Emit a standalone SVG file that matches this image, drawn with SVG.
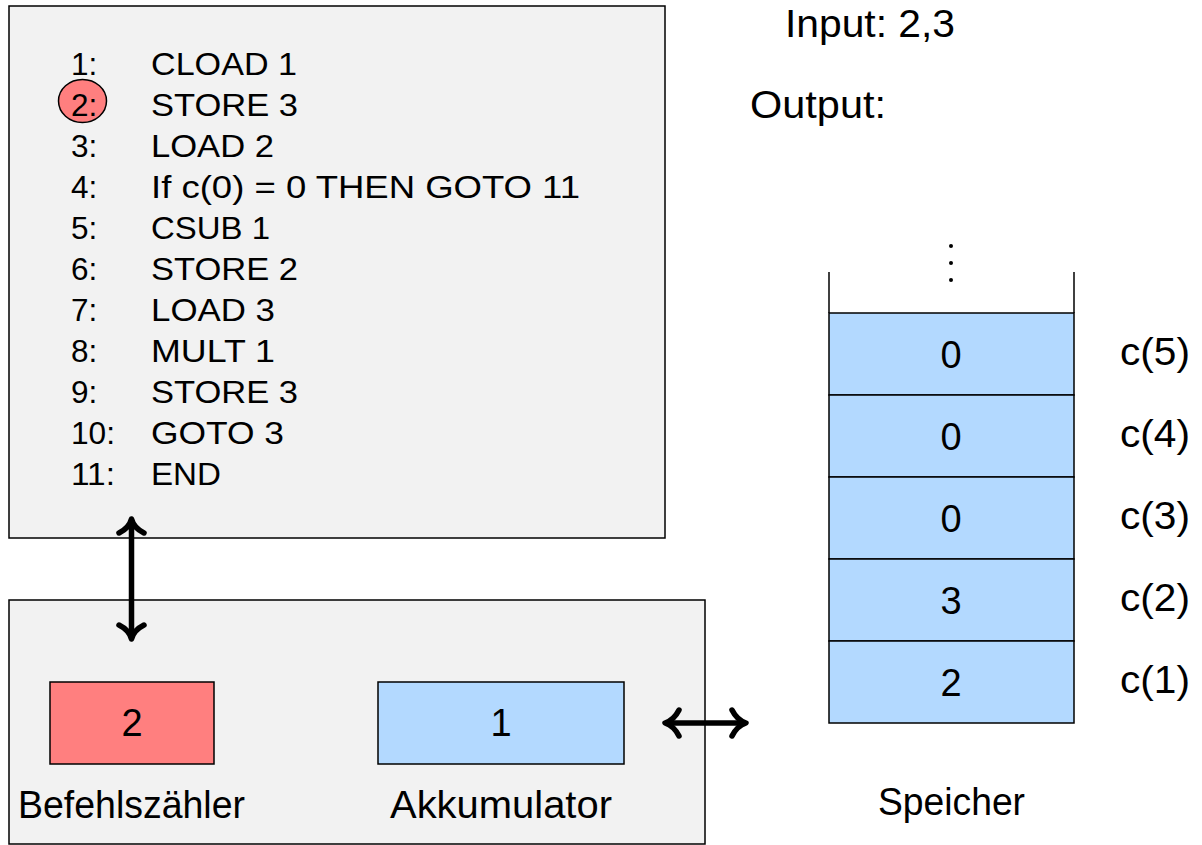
<svg xmlns="http://www.w3.org/2000/svg" width="1202" height="845" viewBox="0 0 1202 845">
<style>
.t{font-family:"Liberation Sans","DejaVu Sans",sans-serif;font-size:38px;fill:#000}
.p{font-family:"Liberation Sans","DejaVu Sans",sans-serif;font-size:31.5px;fill:#000}
.m{text-anchor:middle}
.box{fill:#f2f2f2;stroke:#000;stroke-width:1.5}
.cell{fill:#b3d9ff;stroke:#000;stroke-width:1.5}
.arr{fill:none;stroke:#000;stroke-width:5.5;stroke-linecap:round;stroke-linejoin:round}
</style>
<rect width="1202" height="845" fill="#fff"/>
<g id="program">
<rect class="box" x="9" y="6" width="656" height="532"/>
<ellipse cx="82.5" cy="101" rx="24" ry="21.5" fill="#ff7f7f" stroke="#000" stroke-width="1.5"/>
<g class="p">
<text x="71" y="75">1:</text><text x="151" y="75" textLength="146" lengthAdjust="spacingAndGlyphs">CLOAD 1</text>
<text x="71" y="116">2:</text><text x="151" y="116" textLength="147" lengthAdjust="spacingAndGlyphs">STORE 3</text>
<text x="71" y="157">3:</text><text x="151" y="157" textLength="123" lengthAdjust="spacingAndGlyphs">LOAD 2</text>
<text x="71" y="198">4:</text><text x="151" y="198" textLength="429" lengthAdjust="spacingAndGlyphs">If c(0) = 0 THEN GOTO 11</text>
<text x="71" y="239">5:</text><text x="151" y="239" textLength="119" lengthAdjust="spacingAndGlyphs">CSUB 1</text>
<text x="71" y="280">6:</text><text x="151" y="280" textLength="147" lengthAdjust="spacingAndGlyphs">STORE 2</text>
<text x="71" y="321">7:</text><text x="151" y="321" textLength="124" lengthAdjust="spacingAndGlyphs">LOAD 3</text>
<text x="71" y="362">8:</text><text x="151" y="362" textLength="124" lengthAdjust="spacingAndGlyphs">MULT 1</text>
<text x="71" y="403">9:</text><text x="151" y="403" textLength="147" lengthAdjust="spacingAndGlyphs">STORE 3</text>
<text x="71" y="444" textLength="44" lengthAdjust="spacingAndGlyphs">10:</text><text x="151" y="444" textLength="133" lengthAdjust="spacingAndGlyphs">GOTO 3</text>
<text x="71" y="485" textLength="44" lengthAdjust="spacingAndGlyphs">11:</text><text x="151" y="485" textLength="70" lengthAdjust="spacingAndGlyphs">END</text>
</g>
</g>
<g id="cpu">
<rect class="box" x="9" y="600" width="696" height="244"/>
</g>
<g id="befehlszaehler">
<rect x="50" y="682" width="164" height="82" fill="#ff7f7f" stroke="#000" stroke-width="1.5"/>
<text class="t m" x="132" y="736">2</text>
<text class="t" x="18" y="818" textLength="227" lengthAdjust="spacingAndGlyphs">Befehlszähler</text>
</g>
<g id="akkumulator">
<rect class="cell" x="378" y="682" width="246" height="82"/>
<text class="t m" x="501" y="736">1</text>
<text class="t" x="390" y="818" textLength="222" lengthAdjust="spacingAndGlyphs">Akkumulator</text>
</g>
<g id="io">
<text class="t" x="785" y="37" textLength="170" lengthAdjust="spacingAndGlyphs">Input: 2,3</text>
<text class="t" x="750" y="118" textLength="136" lengthAdjust="spacingAndGlyphs">Output:</text>
</g>
<g id="speicher">
<line x1="829" y1="272" x2="829" y2="313" stroke="#000" stroke-width="1.5"/>
<line x1="1074" y1="272" x2="1074" y2="313" stroke="#000" stroke-width="1.5"/>
<circle cx="951" cy="246" r="2" fill="#000"/>
<circle cx="951" cy="263" r="2" fill="#000"/>
<circle cx="951" cy="280" r="2" fill="#000"/>
<rect class="cell" x="829" y="313" width="245" height="82"/>
<rect class="cell" x="829" y="395" width="245" height="82"/>
<rect class="cell" x="829" y="477" width="245" height="82"/>
<rect class="cell" x="829" y="559" width="245" height="82"/>
<rect class="cell" x="829" y="641" width="245" height="82"/>
<g class="t">
<text class="m" x="951" y="368">0</text><text x="1120" y="365" textLength="70" lengthAdjust="spacingAndGlyphs">c(5)</text>
<text class="m" x="951" y="450">0</text><text x="1120" y="447" textLength="70" lengthAdjust="spacingAndGlyphs">c(4)</text>
<text class="m" x="951" y="532">0</text><text x="1120" y="529" textLength="70" lengthAdjust="spacingAndGlyphs">c(3)</text>
<text class="m" x="951" y="614">3</text><text x="1120" y="611" textLength="70" lengthAdjust="spacingAndGlyphs">c(2)</text>
<text class="m" x="951" y="696">2</text><text x="1120" y="693" textLength="70" lengthAdjust="spacingAndGlyphs">c(1)</text>
</g>
<text class="t" x="878" y="815" textLength="147" lengthAdjust="spacingAndGlyphs">Speicher</text>
</g>
<g id="connectors">
<line class="arr" x1="131.5" y1="521" x2="131.5" y2="637"/>
<path class="arr" d="M119,533 C125,530 130,525 131.5,519 C133,525 138,530 144,533"/>
<path class="arr" d="M119,625 C125,628 130,633 131.5,639 C133,633 138,628 144,625"/>
<line class="arr" x1="667" y1="723" x2="744" y2="723"/>
<path class="arr" d="M679,710 C676,716 671,721 665,723 C671,725 676,730 679,736"/>
<path class="arr" d="M732,710 C735,716 740,721 746,723 C740,725 735,730 732,736"/>
</g>
</svg>
